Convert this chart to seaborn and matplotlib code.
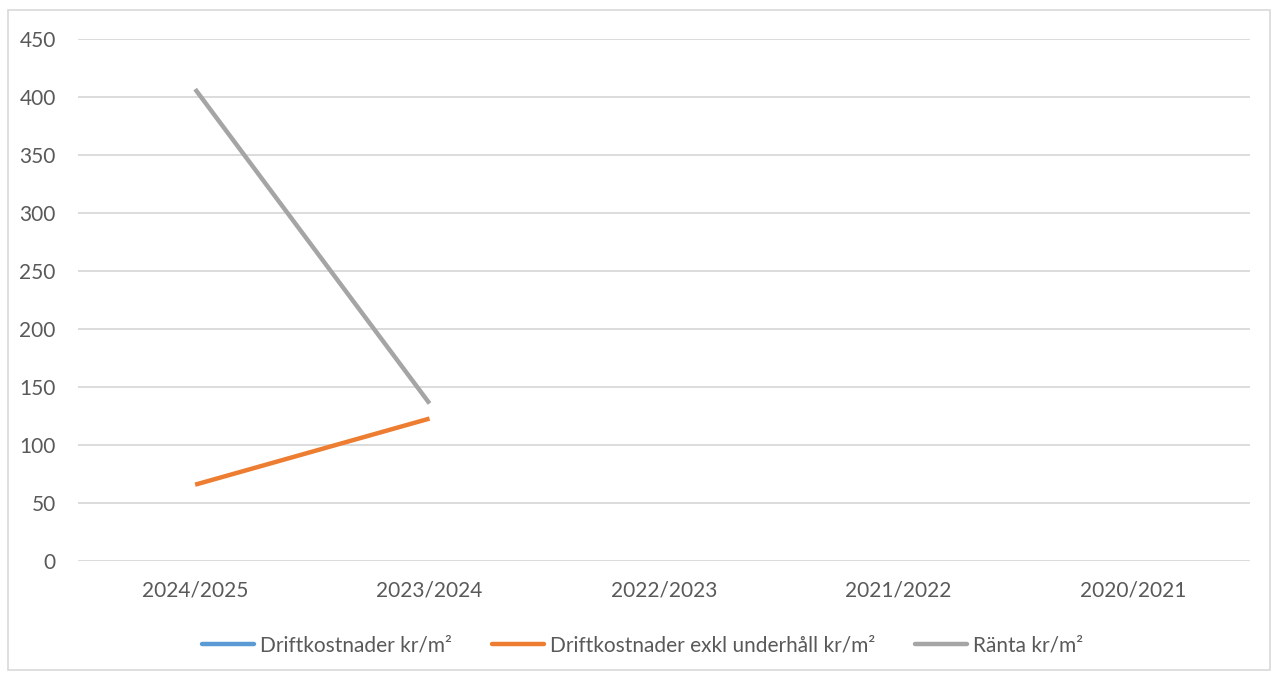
import numpy as np
import pandas as pd
import matplotlib
matplotlib.use("Agg")
import matplotlib.pyplot as plt
from matplotlib.lines import Line2D
import seaborn as sns

# ----- DATA -----
years = ["2024/2025", "2023/2024", "2022/2023", "2021/2022", "2020/2021"]
drift = [np.nan, np.nan, np.nan, np.nan, np.nan]
drift_exkl = [66, 123, np.nan, np.nan, np.nan]
ranta = [407, 136, np.nan, np.nan, np.nan]
series_names = ["Driftkostnader kr/m²", "Driftkostnader exkl underhåll kr/m²", "Ränta kr/m²"]
colors = ["#5B9BD5", "#ED7D31", "#A5A5A5"]

df = pd.DataFrame({"pos": range(len(years)), "År": years,
                   series_names[0]: drift,
                   series_names[1]: drift_exkl,
                   series_names[2]: ranta})

sns.set_style("white")
plt.rcParams['font.family'] = ['Lato', 'DejaVu Sans']

fig = plt.figure(figsize=(12.78, 6.77), dpi=100)
ax = fig.add_axes([0.061, 0.171, 0.917, 0.771])

for name, c in zip(series_names, colors):
    sub = df[["pos", name]].dropna()
    if len(sub):
        sns.lineplot(data=sub, x="pos", y=name, color=c, linewidth=3.2, ax=ax,
                     legend=False, solid_capstyle="butt")

ax.set_xlim(-0.5, len(years) - 0.5)
ax.set_ylim(0, 450)
ax.set_yticks(range(0, 451, 50))
ax.set_xticks(range(len(years)))
ax.set_xticklabels(years)
ax.set_xlabel("")
ax.set_ylabel("")
ax.yaxis.grid(True, color="#D9D9D9", linewidth=1.3)
ax.set_axisbelow(True)
for s in ax.spines.values():
    s.set_visible(False)
ax.tick_params(axis="both", length=0, labelsize=15, colors="#595959")
ax.tick_params(axis="x", pad=14)
ax.tick_params(axis="y", pad=16)

handles = [Line2D([0], [0], color=c, linewidth=3.2) for c in colors]
fig.legend(handles, series_names, loc="center", bbox_to_anchor=(0.503, 0.047), ncol=3,
           frameon=False, fontsize=15, labelcolor="#595959", handlelength=2.5,
           handletextpad=0.3, columnspacing=1.9)

# outer frame like the Excel chart area
fig.patches.append(plt.Rectangle((0.006, 0.01), 0.988, 0.975, transform=fig.transFigure,
                                 fill=False, edgecolor="#D9D9D9", linewidth=1.2))

fig.savefig("out.png", dpi=100)
